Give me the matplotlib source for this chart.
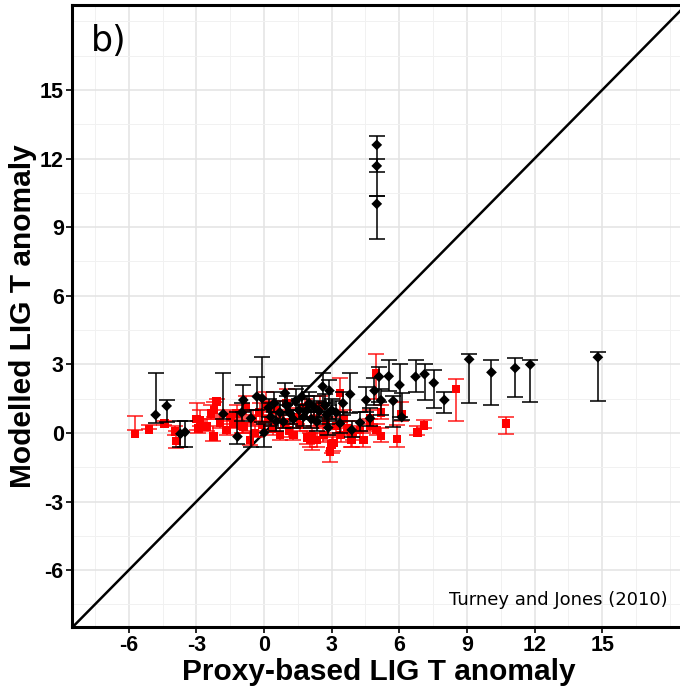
import matplotlib
matplotlib.use("Agg")
import matplotlib.pyplot as plt
from matplotlib.ticker import MultipleLocator
import numpy as np

# ---------------- data ----------------
# red: proxy-based vs modelled (squares)
red_x = [-5.73, -5.10, -4.42, -3.95, -3.89, -2.99, -2.92, -2.84, -2.55, -2.35,
         -2.22, -2.10, -2.25, -1.95, -1.66, -1.50, -1.36, -1.21, -1.00, -0.92,
         -0.80, -0.62, -0.50, -0.40, -0.20, -0.10, 0.10, 0.20, 0.40, 0.50,
         0.70, 0.90, 1.00, 1.10, 1.30, 1.45, 1.60, 1.80, 1.90, 2.04,
         2.12, 2.20, 2.34, 2.50, 2.63, 2.75, 2.93, 3.00, 3.08, 3.20,
         3.37, 3.40, 3.55, 3.70, 3.86, 3.89, 3.95, 4.26, 4.40, 4.70,
         4.70, 4.97, 5.00, 5.18, 5.19, 5.90, 6.09, 6.80, 7.10, 8.52,
         10.73]
red_y = [-0.04, 0.16, 0.42, 0.06, -0.36, 0.60, 0.20, 0.57, 0.28, 0.85,
         1.00, 1.37, -0.16, 0.45, 0.13, 0.70, 0.42, 0.86, 0.30, 0.28,
         1.10, -0.31, 0.60, 0.00, 0.90, 0.35, 1.20, 0.60, 0.20, 1.00,
         -0.10, 0.45, 1.30, 0.10, -0.09, 0.70, 0.35, 1.10, -0.20, -0.31,
         -0.16, 0.60, -0.30, 1.20, -0.09, 0.50, -0.82, -0.50, -0.45, 0.30,
         1.74, -0.10, 0.60, 0.20, -0.13, -0.31, 0.00, 0.13, -0.30, 0.64,
         0.30, 2.61, 0.13, 0.89, -0.13, -0.26, 0.83, 0.03, 0.32, 1.92,
         0.42]
red_lo = [0.13, 0.15, 0.35, -0.10, -0.67, 0.13, 0.00, 0.30, 0.10, 0.60,
          0.70, 1.00, -0.35, 0.20, -0.10, 0.40, 0.20, 0.50, 0.00, 0.00,
          0.80, -0.52, 0.30, -0.20, 0.50, 0.10, 0.90, 0.30, -0.10, 0.70,
          -0.30, 0.20, 1.00, -0.20, -0.30, 0.40, 0.10, 0.70, -0.50, -0.60,
          -0.74, 0.30, -0.60, 0.80, -0.40, 0.20, -1.26, -0.90, -0.80, 0.00,
          0.93, -0.40, 0.30, -0.10, -0.61, -0.60, -0.30, -0.20, -0.60, 0.40,
          0.10, 1.50, -0.10, 0.60, -0.40, -0.60, 0.50, -0.10, 0.20, 0.54,
          -0.03]
red_hi = [0.74, 0.35, 0.50, 0.30, 0.10, 1.30, 0.50, 1.00, 0.60, 1.20,
          1.35, 1.50, 0.30, 0.80, 0.50, 1.00, 0.90, 1.20, 0.70, 0.60,
          1.60, 0.10, 1.00, 0.40, 1.30, 0.80, 1.80, 1.00, 0.50, 1.40,
          0.20, 0.80, 1.90, 0.40, 0.20, 1.10, 0.60, 1.50, 0.10, 0.00,
          0.20, 0.90, 0.00, 1.60, 0.30, 0.90, -0.31, -0.20, -0.10, 0.70,
          2.39, 0.20, 1.00, 0.50, 0.20, 0.00, 0.30, 0.50, 0.00, 1.00,
          0.60, 3.46, 0.40, 1.22, 0.20, 0.35, 1.37, 0.30, 0.57, 2.35,
          0.68]

# black: (diamonds)
blk_x = [-4.81, -4.32, -3.71, -3.50, -1.81, -1.18, -0.99, -0.92, -0.58, -0.32,
         -0.09, 0.00, 0.20, 0.30, 0.45, 0.55, 0.70, 0.86, 0.93, 1.00,
         1.15, 1.30, 1.40, 1.55, 1.67, 1.75, 1.90, 2.00, 2.10, 2.20,
         2.34, 2.45, 2.60, 2.70, 2.78, 2.85, 2.90, 3.00, 3.20, 3.37,
         3.50, 3.82, 3.89, 4.26, 4.53, 4.70, 4.90, 5.10, 5.19, 5.53,
         5.73, 6.01, 6.11, 6.72, 7.12, 7.53, 8.00, 9.10, 10.09, 11.14,
         11.81, 14.81, 5.00, 5.00, 5.00]
blk_y = [0.79, 1.18, -0.04, 0.04, 0.83, -0.16, 0.89, 1.44, 0.64, 1.59,
         1.52, 0.01, 1.10, 0.70, 1.30, 0.50, 0.90, 0.49, 1.74, 1.20,
         0.86, 0.60, 1.40, 1.00, 1.59, 0.70, 1.00, 1.30, 0.60, 1.15,
         0.49, 0.95, 2.03, 1.20, 0.79, 0.23, 1.85, 1.00, 0.89, 0.42,
         1.30, 1.69, 0.13, 0.45, 1.44, 0.64, 1.85, 2.46, 1.43, 2.48,
         1.40, 2.10, 0.69, 2.46, 2.57, 2.19, 1.44, 3.22, 2.65, 2.84,
         2.99, 3.31, 12.60, 11.68, 10.02]
blk_lo = [0.45, 0.49, -0.63, -0.63, 0.60, -0.50, 0.50, 0.90, -0.60, 1.00,
          0.49, -0.60, 0.70, 0.30, 0.90, 0.10, 0.50, 0.20, 1.20, 0.80,
          0.40, 0.20, 1.00, 0.60, 1.20, 0.30, 0.60, 0.90, 0.20, 0.70,
          0.10, 0.50, 1.30, 0.70, 0.40, -0.10, 1.20, 0.60, 0.50, 0.00,
          0.80, 0.86, -0.20, 0.10, 0.90, 0.30, 1.20, 1.37, 0.80, 1.84,
          0.28, 0.69, 0.57, 1.79, 1.46, 1.08, 0.86, 1.33, 1.22, 1.55,
          1.37, 1.41, 11.40, 10.37, 8.47]
blk_hi = [2.64, 1.44, 0.54, 0.54, 2.61, 0.90, 1.30, 2.10, 1.00, 2.44,
          3.34, 0.40, 1.50, 1.30, 1.80, 0.90, 1.40, 0.90, 2.20, 1.60,
          1.30, 1.00, 1.90, 1.50, 2.06, 1.20, 1.60, 1.80, 1.00, 1.60,
          0.90, 1.40, 2.64, 1.70, 1.30, 0.60, 2.30, 1.50, 1.40, 0.90,
          1.80, 2.62, 0.50, 0.90, 2.00, 1.10, 2.40, 2.90, 1.90, 3.18,
          1.63, 3.00, 1.74, 3.18, 3.00, 2.76, 1.81, 3.46, 3.18, 3.27,
          3.18, 3.54, 13.00, 12.00, 10.37]

tick_vals = [-6, -3, 0, 3, 6, 9, 12, 15]
x_label = "Proxy-based LIG T anomaly"
y_label = "Modelled LIG T anomaly"
panel_tag = "b)"
source_note = "Turney and Jones (2010)"

# ---------------- figure ----------------
W, H = 680, 694
fig = plt.figure(figsize=(W / 100, H / 100), dpi=100)
ax = fig.add_axes([72 / W, (H - 627) / H, 614 / W, 622 / H])

xmin, xmax = -8.52, 18.72
ymin, ymax = -8.49, 18.72
ax.set_xlim(xmin, xmax)
ax.set_ylim(ymin, ymax)

ax.xaxis.set_major_locator(MultipleLocator(3))
ax.yaxis.set_major_locator(MultipleLocator(3))
ax.xaxis.set_minor_locator(MultipleLocator(1.5))
ax.yaxis.set_minor_locator(MultipleLocator(1.5))
ax.grid(True, which="major", color="#e3e3e3", linewidth=1.1, zorder=0)
ax.grid(True, which="minor", color="#f1f1f1", linewidth=0.7, zorder=0)
ax.set_axisbelow(True)
ax.tick_params(which="minor", length=0)

# 1:1 line
ax.plot([xmin, xmax], [xmin, xmax], color="black", lw=1.8, zorder=2)

def draw(xs, ys, lo, hi, color, marker, ms, z, alpha):
    xs = np.asarray(xs); ys = np.asarray(ys)
    lo = np.asarray(lo); hi = np.asarray(hi)
    mid = (lo + hi) / 2
    ax.errorbar(xs, mid, yerr=[mid - lo, hi - mid], fmt="none", ecolor=color,
                elinewidth=1.4, capsize=5.5, capthick=1.4, alpha=alpha, zorder=z)
    ax.scatter(xs, ys, marker=marker, s=ms, color=color, edgecolors="none", zorder=z + 0.5)

draw(red_x, red_y, red_lo, red_hi, "#ff0000", "s", 38, 3, 0.7)
draw(blk_x, blk_y, blk_lo, blk_hi, "black", "D", 30, 5, 0.8)

ax.set_xticks(tick_vals)
ax.set_yticks(tick_vals)
fam = ["Liberation Sans Narrow", "Liberation Sans", "DejaVu Sans"]
ax.set_xticklabels([str(v) for v in tick_vals], fontsize=15.5, fontweight="bold", family=fam)
ax.set_yticklabels([str(v) for v in tick_vals], fontsize=15.5, fontweight="bold", family=fam)
ax.tick_params(which="major", direction="out", length=4, width=1.2, color="black", pad=2)

for s in ["left", "bottom", "top"]:
    ax.spines[s].set_linewidth(2.2)
    ax.spines[s].set_color("black")
ax.spines["right"].set_visible(False)

ax.set_xlabel(x_label, fontsize=21.5, fontweight="bold", family=fam, labelpad=1)
ax.set_ylabel(y_label, fontsize=21.5, fontweight="bold", family=fam, labelpad=2)

ax.text(0.03, 0.97, panel_tag, transform=ax.transAxes, fontsize=25, va="top", ha="left",
        family="DejaVu Sans")
ax.text(668, 694 - 605, source_note, transform=None, fontsize=13, ha="right", va="baseline",
        family="DejaVu Sans")

fig.savefig("out.png", dpi=100)
